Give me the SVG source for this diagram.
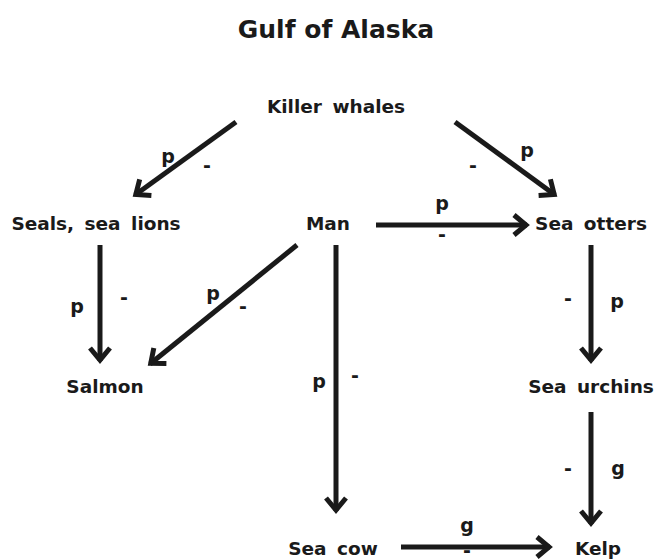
<svg xmlns="http://www.w3.org/2000/svg" width="656" height="560" viewBox="0 0 656 560">
<defs>
<style>
.t{font-family:"DejaVu Sans","Liberation Sans",sans-serif;font-weight:bold;fill:#1a1a1a}
.n{font-size:18.5px;text-anchor:middle;word-spacing:4px}
.l{font-size:19px;text-anchor:middle}
.title{font-size:25px;text-anchor:middle}
.e{stroke:#1a1a1a;stroke-width:5;fill:none;marker-end:url(#ah)}
</style>
<marker id="ah" markerUnits="userSpaceOnUse" markerWidth="30" markerHeight="30" viewBox="-20 -15 30 30" refX="0" refY="0" orient="auto">
<path d="M-13,-10 L-1,0 L-13,10" fill="none" stroke="#1a1a1a" stroke-width="5" stroke-linejoin="miter"/>
</marker>
</defs>
<rect width="656" height="560" fill="#fff"/>
<text class="t title" x="336" y="38">Gulf of Alaska</text>
<g id="killer-whales"><text class="t n" x="336" y="113">Killer whales</text></g>
<g id="seals"><text class="t n" x="96" y="230">Seals, sea lions</text></g>
<g id="man"><text class="t n" x="328" y="230">Man</text></g>
<g id="sea-otters"><text class="t n" x="591" y="230">Sea otters</text></g>
<g id="salmon"><text class="t n" x="105" y="393">Salmon</text></g>
<g id="sea-urchins"><text class="t n" x="591" y="393">Sea urchins</text></g>
<g id="sea-cow"><text class="t n" x="333" y="555">Sea cow</text></g>
<g id="kelp"><text class="t n" x="598" y="555">Kelp</text></g>
<g id="connectors">
<line class="e" x1="236" y1="122" x2="135" y2="195"/>
<line class="e" x1="455" y1="122" x2="555" y2="195"/>
<line class="e" x1="376" y1="225" x2="527" y2="225"/>
<line class="e" x1="100" y1="245" x2="100" y2="361"/>
<line class="e" x1="297" y1="245" x2="150" y2="364"/>
<line class="e" x1="336" y1="245" x2="336" y2="511"/>
<line class="e" x1="591" y1="245" x2="591" y2="361"/>
<line class="e" x1="591" y1="412" x2="591" y2="524"/>
<line class="e" x1="401" y1="547" x2="550" y2="547"/>
<g class="t">
<text class="l" x="168" y="163">p</text><text class="l" x="207" y="172">-</text>
<text class="l" x="527" y="157">p</text><text class="l" x="473" y="172">-</text>
<text class="l" x="442" y="210">p</text><text class="l" x="442" y="241">-</text>
<text class="l" x="77" y="313">p</text><text class="l" x="124" y="304">-</text>
<text class="l" x="213" y="300">p</text><text class="l" x="243" y="313">-</text>
<text class="l" x="319" y="388">p</text><text class="l" x="355" y="382">-</text>
<text class="l" x="568" y="305">-</text><text class="l" x="617" y="308">p</text>
<text class="l" x="568" y="475">-</text><text class="l" x="618" y="475">g</text>
<text class="l" x="467" y="532">g</text><text class="l" x="467" y="557">-</text>
</g>
</g>
</svg>
